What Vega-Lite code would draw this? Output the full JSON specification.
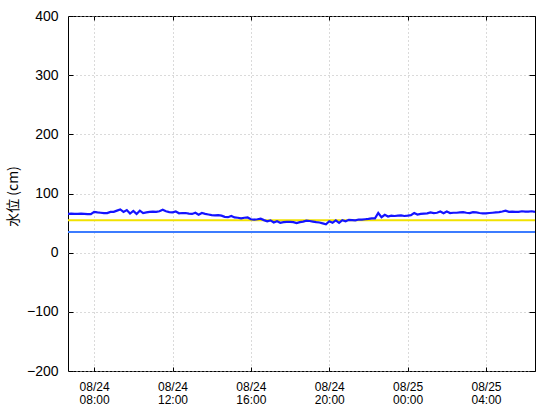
{
  "$schema": "https://vega.github.io/schema/vega-lite/v6.json",
  "width": 467,
  "height": 355,
  "autosize": {"type": "none"},
  "padding": {"left": 68, "top": 16, "right": 25, "bottom": 49},
  "background": "white",
  "config": {
    "view": {"stroke": "#000000", "strokeWidth": 1},
    "axis": {"domain": false, "labelColor": "#000000", "tickColor": "#000000", "gridColor": "#b4b4b4", "gridDash": [1, 3], "gridWidth": 1}
  },
  "data": {
    "values": [
      {"t": "2024-08-24T06:40:00", "v": 65.5}, {"t": "2024-08-24T06:50:00", "v": 66},
      {"t": "2024-08-24T07:00:00", "v": 65.5}, {"t": "2024-08-24T07:10:00", "v": 65.5},
      {"t": "2024-08-24T07:20:00", "v": 66}, {"t": "2024-08-24T07:30:00", "v": 65.5},
      {"t": "2024-08-24T07:40:00", "v": 65}, {"t": "2024-08-24T07:50:00", "v": 65},
      {"t": "2024-08-24T08:00:00", "v": 69}, {"t": "2024-08-24T08:10:00", "v": 68},
      {"t": "2024-08-24T08:20:00", "v": 67.5}, {"t": "2024-08-24T08:30:00", "v": 67},
      {"t": "2024-08-24T08:40:00", "v": 67}, {"t": "2024-08-24T08:50:00", "v": 69},
      {"t": "2024-08-24T09:00:00", "v": 69}, {"t": "2024-08-24T09:10:00", "v": 71},
      {"t": "2024-08-24T09:20:00", "v": 73}, {"t": "2024-08-24T09:30:00", "v": 69},
      {"t": "2024-08-24T09:40:00", "v": 72}, {"t": "2024-08-24T09:50:00", "v": 66},
      {"t": "2024-08-24T10:00:00", "v": 70.5}, {"t": "2024-08-24T10:10:00", "v": 65.5},
      {"t": "2024-08-24T10:20:00", "v": 71}, {"t": "2024-08-24T10:30:00", "v": 67},
      {"t": "2024-08-24T10:40:00", "v": 68}, {"t": "2024-08-24T10:50:00", "v": 69},
      {"t": "2024-08-24T11:00:00", "v": 69.5}, {"t": "2024-08-24T11:10:00", "v": 69},
      {"t": "2024-08-24T11:20:00", "v": 70}, {"t": "2024-08-24T11:30:00", "v": 72.5},
      {"t": "2024-08-24T11:40:00", "v": 70}, {"t": "2024-08-24T11:50:00", "v": 68.5},
      {"t": "2024-08-24T12:00:00", "v": 68}, {"t": "2024-08-24T12:10:00", "v": 69.5},
      {"t": "2024-08-24T12:20:00", "v": 66.5}, {"t": "2024-08-24T12:30:00", "v": 67},
      {"t": "2024-08-24T12:40:00", "v": 67}, {"t": "2024-08-24T12:50:00", "v": 66},
      {"t": "2024-08-24T13:00:00", "v": 65.5}, {"t": "2024-08-24T13:10:00", "v": 67.5},
      {"t": "2024-08-24T13:20:00", "v": 64}, {"t": "2024-08-24T13:30:00", "v": 67},
      {"t": "2024-08-24T13:40:00", "v": 65.5}, {"t": "2024-08-24T13:50:00", "v": 64.5},
      {"t": "2024-08-24T14:00:00", "v": 63.5}, {"t": "2024-08-24T14:10:00", "v": 63},
      {"t": "2024-08-24T14:20:00", "v": 63.3}, {"t": "2024-08-24T14:30:00", "v": 62.5},
      {"t": "2024-08-24T14:40:00", "v": 60.5}, {"t": "2024-08-24T14:50:00", "v": 60},
      {"t": "2024-08-24T15:00:00", "v": 62}, {"t": "2024-08-24T15:10:00", "v": 59.5},
      {"t": "2024-08-24T15:20:00", "v": 59}, {"t": "2024-08-24T15:30:00", "v": 58},
      {"t": "2024-08-24T15:40:00", "v": 59}, {"t": "2024-08-24T15:50:00", "v": 59.5},
      {"t": "2024-08-24T16:00:00", "v": 56.5}, {"t": "2024-08-24T16:10:00", "v": 56},
      {"t": "2024-08-24T16:20:00", "v": 56.5}, {"t": "2024-08-24T16:30:00", "v": 57.5},
      {"t": "2024-08-24T16:40:00", "v": 55}, {"t": "2024-08-24T16:50:00", "v": 53},
      {"t": "2024-08-24T17:00:00", "v": 54.5}, {"t": "2024-08-24T17:10:00", "v": 51},
      {"t": "2024-08-24T17:20:00", "v": 53}, {"t": "2024-08-24T17:30:00", "v": 50.5},
      {"t": "2024-08-24T17:40:00", "v": 51.5}, {"t": "2024-08-24T17:50:00", "v": 52},
      {"t": "2024-08-24T18:00:00", "v": 52}, {"t": "2024-08-24T18:10:00", "v": 51.5},
      {"t": "2024-08-24T18:20:00", "v": 50}, {"t": "2024-08-24T18:30:00", "v": 51.5},
      {"t": "2024-08-24T18:40:00", "v": 52.5}, {"t": "2024-08-24T18:50:00", "v": 54},
      {"t": "2024-08-24T19:00:00", "v": 53.5}, {"t": "2024-08-24T19:10:00", "v": 52.5},
      {"t": "2024-08-24T19:20:00", "v": 51.5}, {"t": "2024-08-24T19:30:00", "v": 51},
      {"t": "2024-08-24T19:40:00", "v": 49.5}, {"t": "2024-08-24T19:50:00", "v": 48},
      {"t": "2024-08-24T20:00:00", "v": 53}, {"t": "2024-08-24T20:10:00", "v": 50.5},
      {"t": "2024-08-24T20:20:00", "v": 54.5}, {"t": "2024-08-24T20:30:00", "v": 50.5},
      {"t": "2024-08-24T20:40:00", "v": 55}, {"t": "2024-08-24T20:50:00", "v": 53},
      {"t": "2024-08-24T21:00:00", "v": 55.5}, {"t": "2024-08-24T21:10:00", "v": 55},
      {"t": "2024-08-24T21:20:00", "v": 54.5}, {"t": "2024-08-24T21:30:00", "v": 56},
      {"t": "2024-08-24T21:40:00", "v": 56}, {"t": "2024-08-24T21:50:00", "v": 56.5},
      {"t": "2024-08-24T22:00:00", "v": 57}, {"t": "2024-08-24T22:10:00", "v": 58},
      {"t": "2024-08-24T22:20:00", "v": 58}, {"t": "2024-08-24T22:30:00", "v": 67},
      {"t": "2024-08-24T22:40:00", "v": 60}, {"t": "2024-08-24T22:50:00", "v": 64},
      {"t": "2024-08-24T23:00:00", "v": 61}, {"t": "2024-08-24T23:10:00", "v": 62.5},
      {"t": "2024-08-24T23:20:00", "v": 62}, {"t": "2024-08-24T23:30:00", "v": 62.5},
      {"t": "2024-08-24T23:40:00", "v": 63}, {"t": "2024-08-24T23:50:00", "v": 62},
      {"t": "2024-08-25T00:00:00", "v": 62.5}, {"t": "2024-08-25T00:10:00", "v": 63.5},
      {"t": "2024-08-25T00:20:00", "v": 67}, {"t": "2024-08-25T00:30:00", "v": 64.5},
      {"t": "2024-08-25T00:40:00", "v": 65.5}, {"t": "2024-08-25T00:50:00", "v": 66},
      {"t": "2024-08-25T01:00:00", "v": 66.5}, {"t": "2024-08-25T01:10:00", "v": 68},
      {"t": "2024-08-25T01:20:00", "v": 67}, {"t": "2024-08-25T01:30:00", "v": 67.5},
      {"t": "2024-08-25T01:40:00", "v": 69.5}, {"t": "2024-08-25T01:50:00", "v": 66.5},
      {"t": "2024-08-25T02:00:00", "v": 69.5}, {"t": "2024-08-25T02:10:00", "v": 67},
      {"t": "2024-08-25T02:20:00", "v": 67.5}, {"t": "2024-08-25T02:30:00", "v": 67.5},
      {"t": "2024-08-25T02:40:00", "v": 68}, {"t": "2024-08-25T02:50:00", "v": 68.5},
      {"t": "2024-08-25T03:00:00", "v": 67.5}, {"t": "2024-08-25T03:10:00", "v": 67},
      {"t": "2024-08-25T03:20:00", "v": 68.5}, {"t": "2024-08-25T03:30:00", "v": 68},
      {"t": "2024-08-25T03:40:00", "v": 67}, {"t": "2024-08-25T03:50:00", "v": 66.5},
      {"t": "2024-08-25T04:00:00", "v": 66.5}, {"t": "2024-08-25T04:10:00", "v": 67},
      {"t": "2024-08-25T04:20:00", "v": 67.5}, {"t": "2024-08-25T04:30:00", "v": 68},
      {"t": "2024-08-25T04:40:00", "v": 68.5}, {"t": "2024-08-25T04:50:00", "v": 69.5},
      {"t": "2024-08-25T05:00:00", "v": 71}, {"t": "2024-08-25T05:10:00", "v": 69},
      {"t": "2024-08-25T05:20:00", "v": 69.5}, {"t": "2024-08-25T05:30:00", "v": 69},
      {"t": "2024-08-25T05:40:00", "v": 69}, {"t": "2024-08-25T05:50:00", "v": 70},
      {"t": "2024-08-25T06:00:00", "v": 69.5}, {"t": "2024-08-25T06:10:00", "v": 69.5},
      {"t": "2024-08-25T06:20:00", "v": 70}, {"t": "2024-08-25T06:30:00", "v": 69}
    ]
  },
  "layer": [
    {
      "data": {"values": [{"level": "yellow"}]},
      "mark": {"type": "rule", "color": "#f2e200", "strokeWidth": 2},
      "encoding": {"y": {"datum": 55, "type": "quantitative", "axis": null}}
    },
    {
      "data": {"values": [{"level": "blue"}]},
      "mark": {"type": "rule", "color": "#3c7cff", "strokeWidth": 2},
      "encoding": {"y": {"datum": 35, "type": "quantitative", "axis": null}}
    },
    {
      "mark": {"type": "line", "color": "#1414ff", "strokeWidth": 2.2, "clip": true},
      "encoding": {
        "x": {
          "field": "t",
          "type": "temporal",
          "scale": {"domain": [{"year": 2024, "month": 8, "date": 24, "hours": 6, "minutes": 40}, {"year": 2024, "month": 8, "date": 25, "hours": 6, "minutes": 30}]},
          "axis": {
            "orient": "bottom",
            "title": null,
            "values": [
              {"year": 2024, "month": 8, "date": 24, "hours": 8},
              {"year": 2024, "month": 8, "date": 24, "hours": 12},
              {"year": 2024, "month": 8, "date": 24, "hours": 16},
              {"year": 2024, "month": 8, "date": 24, "hours": 20},
              {"year": 2024, "month": 8, "date": 25, "hours": 0},
              {"year": 2024, "month": 8, "date": 25, "hours": 4}
            ],
            "labelExpr": "[timeFormat(datum.value, '%m/%d'), timeFormat(datum.value, '%H:%M')]",
            "labelFont": "Liberation Sans",
            "labelFontSize": 12,
            "labelLineHeight": 13,
            "labelBaseline": "top",
            "labelPadding": 14,
            "tickSize": -4,
            "grid": true
          }
        },
        "y": {
          "field": "v",
          "type": "quantitative",
          "scale": {"domain": [-200, 400], "nice": false},
          "axis": {
            "orient": "left",
            "values": [-200, -100, 0, 100, 200, 300, 400],
            "labelFont": "Liberation Sans",
            "labelFontSize": 14,
            "labelPadding": 15,
            "tickSize": -5,
            "grid": true,
            "title": "水位 (cm)",
            "titleFont": "Noto Sans CJK JP",
            "titleFontSize": 14,
            "titleFontWeight": "normal",
            "titleColor": "#000000",
            "titleX": -55,
            "titleY": 180,
            "titleAngle": -90,
            "titleAlign": "center",
            "titleBaseline": "middle"
          }
        }
      }
    },
    {
      "mark": {"type": "line", "strokeOpacity": 0},
      "encoding": {
        "x": {
          "field": "t",
          "type": "temporal",
          "axis": {
            "orient": "top",
            "title": null,
            "labels": false,
            "grid": false,
            "tickSize": -4,
            "values": [
              {"year": 2024, "month": 8, "date": 24, "hours": 8},
              {"year": 2024, "month": 8, "date": 24, "hours": 12},
              {"year": 2024, "month": 8, "date": 24, "hours": 16},
              {"year": 2024, "month": 8, "date": 24, "hours": 20},
              {"year": 2024, "month": 8, "date": 25, "hours": 0},
              {"year": 2024, "month": 8, "date": 25, "hours": 4}
            ]
          }
        },
        "y": {
          "field": "v",
          "type": "quantitative",
          "axis": {
            "orient": "right",
            "title": null,
            "labels": false,
            "grid": false,
            "tickSize": -6,
            "values": [-200, -100, 0, 100, 200, 300, 400]
          }
        }
      }
    }
  ],
  "resolve": {"axis": {"x": "independent", "y": "independent"}}
}
